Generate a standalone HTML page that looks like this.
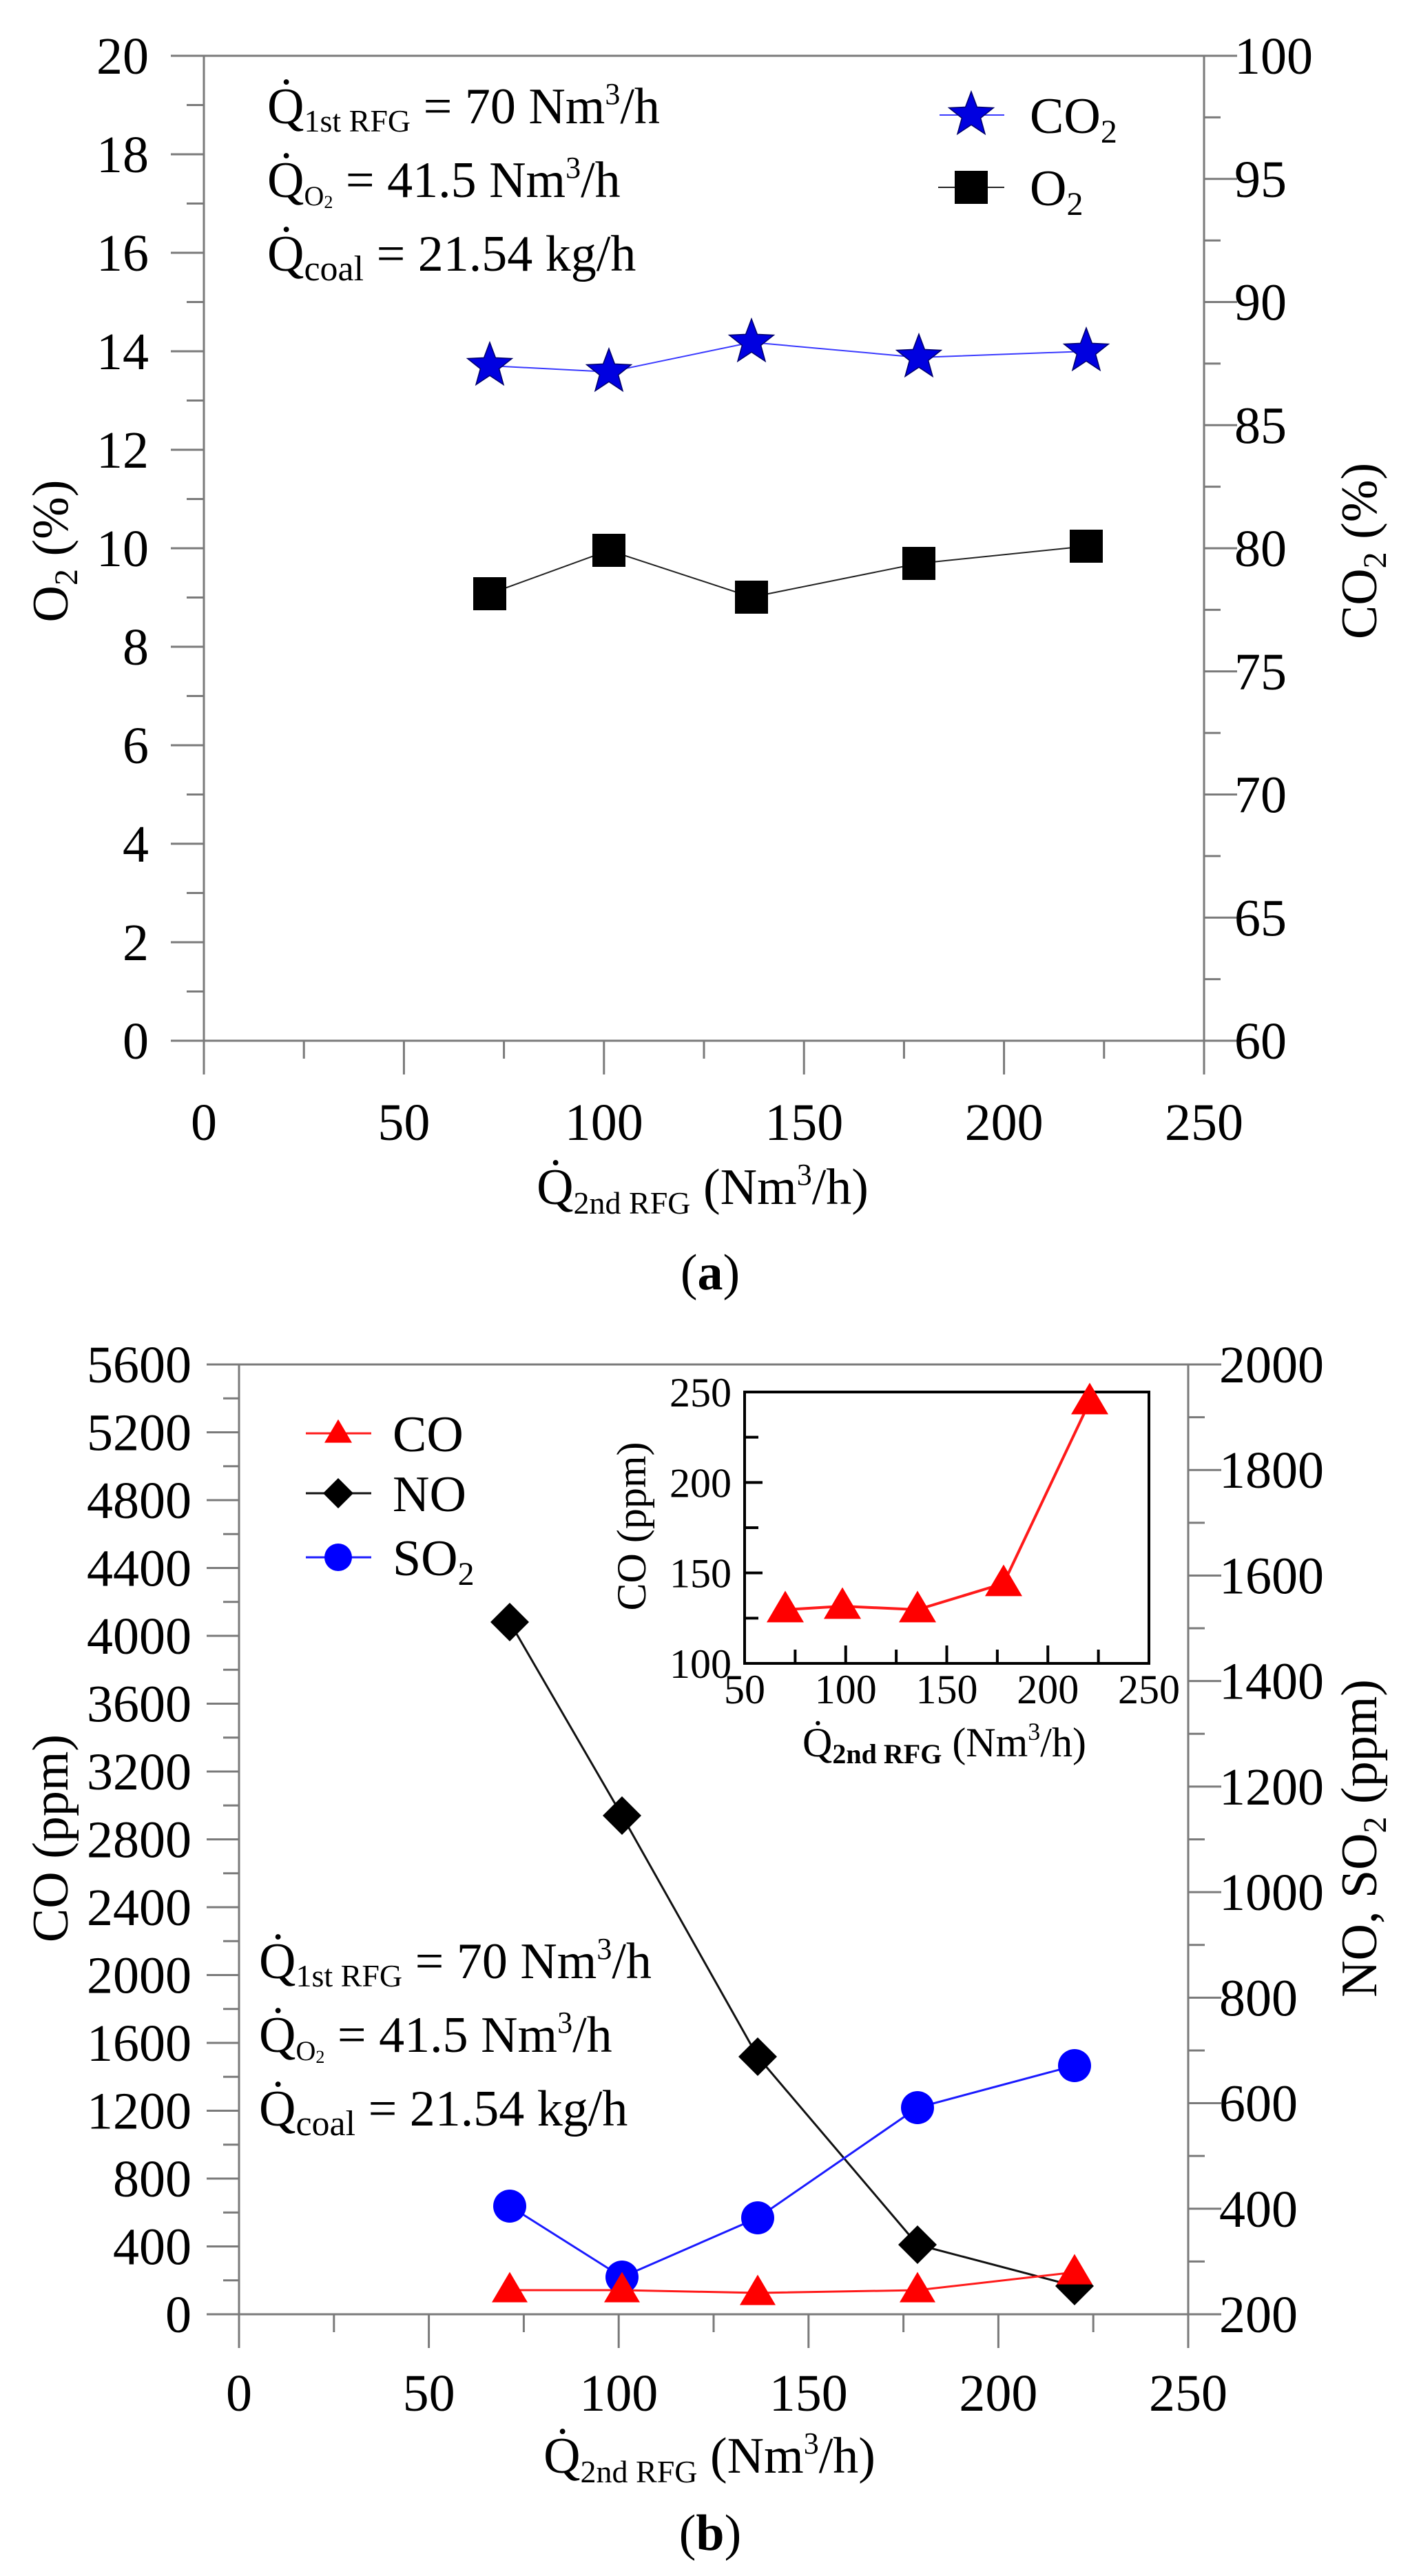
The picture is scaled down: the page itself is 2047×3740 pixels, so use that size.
<!DOCTYPE html>
<html><head><meta charset="utf-8">
<style>
html,body{margin:0;padding:0;background:#fff;}
svg, svg text{font-family:"Liberation Serif","DejaVu Serif","Times New Roman",serif;}
svg{display:block;}
</style></head>
<body>
<svg id="s" width="2047" height="3740" viewBox="0 0 2047 3740" xmlns="http://www.w3.org/2000/svg" font-family="Liberation Serif, DejaVu Serif, serif">
<rect width="2047" height="3740" fill="#fff"/>
<g id="g" font-family="Liberation Serif, DejaVu Serif, serif"></g>
<!-- Panel a static text -->
<g font-size="74" fill="#000" font-family="Liberation Serif, DejaVu Serif, serif">
  <text x="388" y="179">Q&#775;<tspan font-size="46" dy="12">1st RFG</tspan><tspan dy="-12"> = 70 Nm</tspan><tspan font-size="44" dy="-28">3</tspan><tspan dy="28">/h</tspan></text>
  <text x="388" y="286">Q&#775;<tspan font-size="40" dy="12">O</tspan><tspan font-size="26" dy="4">2</tspan><tspan dy="-16"> = 41.5 Nm</tspan><tspan font-size="44" dy="-28">3</tspan><tspan dy="28">/h</tspan></text>
  <text x="388" y="393">Q&#775;<tspan font-size="52" dy="14">coal</tspan><tspan dy="-14"> = 21.54 kg/h</tspan></text>
  <text x="1495" y="193">CO<tspan font-size="48" dy="14">2</tspan></text>
  <text x="1495" y="298">O<tspan font-size="48" dy="14">2</tspan></text>
  <text transform="translate(98,800) rotate(-90)" text-anchor="middle">O<tspan font-size="48" dy="14">2</tspan><tspan dy="-14"> (%)</tspan></text>
  <text transform="translate(1998,800) rotate(-90)" text-anchor="middle">CO<tspan font-size="48" dy="14">2</tspan><tspan dy="-14"> (%)</tspan></text>
  <text x="1020" y="1748" text-anchor="middle">Q&#775;<tspan font-size="46" dy="14">2nd RFG</tspan><tspan dy="-14"> (Nm</tspan><tspan font-size="44" dy="-28">3</tspan><tspan dy="28">/h)</tspan></text>
  <text x="1031" y="1872" text-anchor="middle">(<tspan font-weight="bold">a</tspan>)</text>
</g>
<!-- Panel b static text -->
<g font-size="74" fill="#000" font-family="Liberation Serif, DejaVu Serif, serif">
  <text x="376" y="2872">Q&#775;<tspan font-size="46" dy="12">1st RFG</tspan><tspan dy="-12"> = 70 Nm</tspan><tspan font-size="44" dy="-28">3</tspan><tspan dy="28">/h</tspan></text>
  <text x="376" y="2979">Q&#775;<tspan font-size="40" dy="12">O</tspan><tspan font-size="26" dy="4">2</tspan><tspan dy="-16"> = 41.5 Nm</tspan><tspan font-size="44" dy="-28">3</tspan><tspan dy="28">/h</tspan></text>
  <text x="376" y="3086">Q&#775;<tspan font-size="52" dy="14">coal</tspan><tspan dy="-14"> = 21.54 kg/h</tspan></text>
  <text x="570" y="2107">CO</text>
  <text x="570" y="2194">NO</text>
  <text x="570" y="2287">SO<tspan font-size="48" dy="14">2</tspan></text>
  <text transform="translate(98,2669) rotate(-90)" text-anchor="middle">CO (ppm)</text>
  <text transform="translate(1998,2669) rotate(-90)" text-anchor="middle">NO, SO<tspan font-size="48" dy="14">2</tspan><tspan dy="-14"> (ppm)</tspan></text>
  <text x="1030" y="3590" text-anchor="middle">Q&#775;<tspan font-size="46" dy="14">2nd RFG</tspan><tspan dy="-14"> (Nm</tspan><tspan font-size="44" dy="-28">3</tspan><tspan dy="28">/h)</tspan></text>
  <text x="1031" y="3702" text-anchor="middle">(<tspan font-weight="bold">b</tspan>)</text>
</g>
<g font-size="60" fill="#000" font-family="Liberation Serif, DejaVu Serif, serif">
  <text transform="translate(937,2216) rotate(-90)" text-anchor="middle">CO (ppm)</text>
  <text x="1371" y="2550" text-anchor="middle">Q&#775;<tspan font-size="40" dy="10" font-weight="bold">2nd RFG</tspan><tspan dy="-10"> (Nm</tspan><tspan font-size="36" dy="-24">3</tspan><tspan dy="24">/h)</tspan></text>
</g>
</svg>
<script>
(function(){
var g=document.getElementById('g'),h='';
function ln(x1,y1,x2,y2,c,w){h+='<line x1="'+x1+'" y1="'+y1+'" x2="'+x2+'" y2="'+y2+'" stroke="'+c+'" stroke-width="'+w+'"/>';}
function tx(x,y,t,fs,a){h+='<text x="'+x+'" y="'+y+'" font-size="'+fs+'" text-anchor="'+a+'" font-family="Liberation Serif, DejaVu Serif, serif">'+t+'</text>';}
var AX='#7a7a7a';
var L=296,R=1748,T=81,B=1511;
function ax(v){return L+(R-L)*v/250;}
function ayL(v){return B-(B-T)*v/20;}
function ayR(v){return B-(B-T)*(v-60)/40;}
ln(L,T,L,B,AX,3);ln(R,T,R,B,AX,3);
ln(248,T,1796,T,AX,3);ln(248,B,1796,B,AX,3);
for(var v=0;v<=20;v++){var y=ayL(v);if(v%2==0){ln(248,y,L,y,AX,3);tx(216,y+26,v,76,'end');}else ln(271,y,L,y,AX,3);}
for(var v=60;v<=100;v+=2.5){var y=ayR(v);if(v%5==0){ln(R,y,1796,y,AX,3);tx(1792,y+26,v,76,'start');}else ln(R,y,1772,y,AX,3);}
for(var v=0;v<=250;v+=25){var x=ax(v);if(v%50==0){ln(x,B,x,1560,AX,3);tx(x,1655,v,76,'middle');}else ln(x,B,x,1537,AX,3);}
var xs=[711,884,1091,1334,1577];
var co2=[531,540,497,519,510],o2=[862,799,867,818,793];
function pl(xs,ys,c,w){var p='';for(var i=0;i<xs.length;i++)p+=xs[i]+','+ys[i]+' ';h+='<polyline points="'+p+'" fill="none" stroke="'+c+'" stroke-width="'+w+'"/>';}
function star(x,y,r,c){var p='';for(var i=0;i<10;i++){var a=-Math.PI/2+i*Math.PI/5,rr=i%2?r*0.42:r;p+=(x+rr*Math.cos(a)).toFixed(1)+','+(y+rr*Math.sin(a)).toFixed(1)+' ';}h+='<polygon points="'+p+'" fill="'+c+'" stroke="#00006a" stroke-width="1.5"/>';}
function sq(x,y,s){h+='<rect x="'+(x-s/2)+'" y="'+(y-s/2)+'" width="'+s+'" height="'+s+'" fill="#000"/>';}
function dia(x,y,s){h+='<polygon points="'+x+','+(y-s)+' '+(x+s)+','+y+' '+x+','+(y+s)+' '+(x-s)+','+y+'" fill="#000"/>';}
function cir(x,y,r){h+='<circle cx="'+x+'" cy="'+y+'" r="'+r+'" fill="#0000ff"/>';}
function tri(x,y,s){var hh=s*0.85;h+='<polygon points="'+x+','+(y-hh*0.6)+' '+(x+s/2)+','+(y+hh*0.4)+' '+(x-s/2)+','+(y+hh*0.4)+'" fill="#ff0000"/>';}
pl(xs,co2,'#3a3aff',2);pl(xs,o2,'#222',2);
for(var i=0;i<5;i++){star(xs[i],co2[i],34,'#0000e0');sq(xs[i],o2[i],48);}
ln(1364,167,1458,167,'#3a3aff',2);star(1410,167,34,'#0000e0');
ln(1362,272,1458,272,'#222',2);sq(1410,272,48);
var L2=347,R2=1725,T2=1981,B2=3360;
function bx(v){return L2+(R2-L2)*v/250;}
function byL(v){return B2-(B2-T2)*v/5600;}
function byR(v){return B2-(B2-T2)*(v-200)/1800;}
ln(L2,T2,L2,B2,AX,3);ln(R2,T2,R2,B2,AX,3);
ln(300,T2,1773,T2,AX,3);ln(300,B2,1773,B2,AX,3);
for(var v=0;v<=5600;v+=200){var y=byL(v);if(v%400==0){ln(300,y,L2,y,AX,3);tx(278,y+26,v,76,'end');}else ln(324,y,L2,y,AX,3);}
for(var v=200;v<=2000;v+=100){var y=byR(v);if(v%200==0){ln(R2,y,1773,y,AX,3);tx(1770,y+26,v,76,'start');}else ln(R2,y,1749,y,AX,3);}
for(var v=0;v<=250;v+=25){var x=bx(v);if(v%50==0){ln(x,B2,x,3409,AX,3);tx(x,3500,v,76,'middle');}else ln(x,B2,x,3386,AX,3);}
var xb=[740,903,1100,1332,1560];
var no=[2355,2636,2986,3259,3319],so=[3203,3306,3220,3060,2999],co=[3325,3325,3329,3325,3299];
pl(xb,no,'#111',3);pl(xb,so,'#1a1aff',3);pl(xb,co,'#ff1a1a',3);
for(var i=0;i<5;i++){dia(xb[i],no[i],28);cir(xb[i],so[i],24);tri(xb[i],co[i],52);}
ln(444,2081,539,2081,'#ff1a1a',3);tri(491,2081,40);
ln(444,2168,539,2168,'#111',3);dia(491,2168,22);
ln(444,2261,539,2261,'#1a1aff',3);cir(491,2261,20);
var iL=1081,iR=1668,iT=2021,iB=2415;
h+='<rect x="'+iL+'" y="'+iT+'" width="'+(iR-iL)+'" height="'+(iB-iT)+'" fill="#fff" stroke="#000" stroke-width="4"/>';
function ix(v){return iL+(iR-iL)*(v-50)/200;}
function iy(v){return iB-(iB-iT)*(v-100)/150;}
for(var v=100;v<=250;v+=25){var y=iy(v);ln(iL,y,iL+(v%50==0?26:20),y,'#000',4);if(v%50==0)tx(1062,y+21,v,60,'end');}
for(var v=50;v<=250;v+=25){var x=ix(v);ln(x,iB,x,iB-(v%50==0?26:20),'#000',4);if(v%50==0)tx(x,2473,v,60,'middle');}
var xi=[1140,1223,1332,1457,1582],yi=[2337,2332,2337,2299,2035];
pl(xi,yi,'#ff1a1a',4);
for(var i=0;i<5;i++)tri(xi[i],yi[i],54);
g.innerHTML=h;
})();
</script>
</body></html>
